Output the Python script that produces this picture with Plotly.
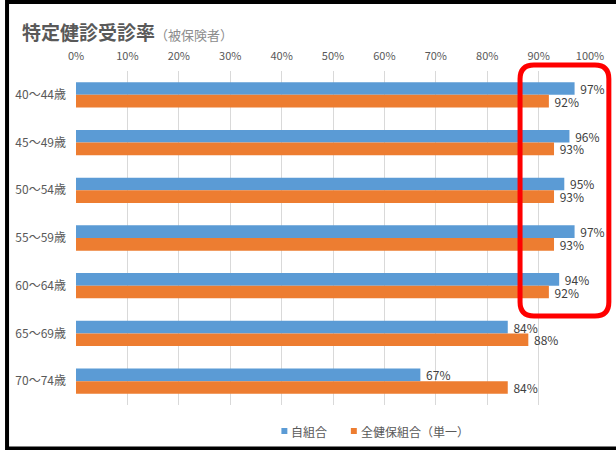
import plotly.graph_objects as go

# Data
age_groups = ["40～44歳", "45～49歳", "50～54歳", "55～59歳", "60～64歳", "65～69歳", "70～74歳"]
own_union = [97, 96, 95, 97, 94, 84, 67]
all_unions = [92, 93, 93, 93, 92, 88, 84]
series_names = ["自組合", "全健保組合（単一）"]
x_ticks = list(range(0, 101, 10))
x_tick_labels = [f"{v}%" for v in x_ticks]

BLUE = "#5B9BD5"
ORANGE = "#ED7D31"
FONT = "Noto Sans CJK JP"

W, H = 616, 450
L, R, T, B = 76, 22, 71, 45
PW, PH = W - L - R, H - T - B


def px(x):
    return (x - L) / PW


def py(y):
    return (H - B - y) / PH


fig = go.Figure()
for name, vals, col in [(series_names[0], own_union, BLUE), (series_names[1], all_unions, ORANGE)]:
    fig.add_trace(go.Bar(
        y=age_groups, x=vals, name=name, orientation="h",
        marker=dict(color=col, line=dict(width=0)),
        text=[f"{v}%" for v in vals], texttemplate=" %{text}", textposition="outside",
        textfont=dict(family=FONT, size=12, color="#404040"),
        cliponaxis=False, constraintext="none", showlegend=False,
    ))

fig.update_layout(
    width=W, height=H,
    margin=dict(l=L, r=R, t=T, b=B),
    paper_bgcolor="white", plot_bgcolor="white",
    barmode="group", bargap=0.47, bargroupgap=0,
    font=dict(family=FONT, color="#595959"),
    xaxis=dict(
        side="top", range=[0, 100], tickmode="array",
        tickvals=x_ticks, ticktext=x_tick_labels,
        showgrid=True, gridcolor="#D9D9D9", gridwidth=1,
        zeroline=False, showline=False, ticks="", ticklabelstandoff=8,
        tickfont=dict(family=FONT, size=11, color="#595959"),
    ),
    yaxis=dict(
        type="category", categoryorder="array", categoryarray=age_groups,
        range=[6.5, -0.5], showgrid=False, zeroline=False, showline=False,
        ticks="", ticklabelstandoff=9,
        tickfont=dict(family=FONT, size=12, color="#595959"),
    ),
)

# Title
fig.add_annotation(
    xref="paper", yref="paper", x=px(20), y=py(32), xanchor="left", yanchor="middle",
    showarrow=False,
    text="<b>特定健診受診率</b><span style='font-size:13px;color:#8C8C8C'>（被保険者）</span>",
    font=dict(family=FONT, size=19, color="#595959"),
)

# Legend
legend_items = [(series_names[0], BLUE, 283), (series_names[1], ORANGE, 353)]
for name, col, x0 in legend_items:
    fig.add_shape(type="rect", xref="paper", yref="paper",
                  x0=px(x0), x1=px(x0 + 6), y0=py(434), y1=py(428),
                  fillcolor=col, line=dict(width=0))
    fig.add_annotation(xref="paper", yref="paper", x=px(x0 + 8), y=py(431),
                       xanchor="left", yanchor="middle", showarrow=False,
                       text=name, font=dict(family=FONT, size=12, color="#595959"))

# Highlight box around the 40–64 age range values
x0, x1, y0, y1 = px(523.5), px(613), py(316), py(65)
rx, ry = 14 / PW, 14 / PH
path = (f"M {x0 + rx} {y1} L {x1 - rx} {y1} Q {x1} {y1} {x1} {y1 - ry} "
        f"L {x1} {y0 + ry} Q {x1} {y0} {x1 - rx} {y0} "
        f"L {x0 + rx} {y0} Q {x0} {y0} {x0} {y0 + ry} "
        f"L {x0} {y1 - ry} Q {x0} {y1} {x0 + rx} {y1} Z")
fig.add_shape(type="path", xref="paper", yref="paper", path=path,
              line=dict(color="#FF0000", width=5), fillcolor="rgba(0,0,0,0)")

# Frame lines
frame = dict(xref="paper", yref="paper", line=dict(color="black", width=4))
fig.add_shape(type="line", x0=px(6.5), x1=px(W + 10), y0=py(2), y1=py(2), **frame)
fig.add_shape(type="line", x0=px(6.5), x1=px(6.5), y0=py(0), y1=py(450), **frame)
fig.add_shape(type="line", x0=px(6.5), x1=px(W + 10), y0=py(448.5), y1=py(448.5), **frame)

fig.write_html("out.html")
